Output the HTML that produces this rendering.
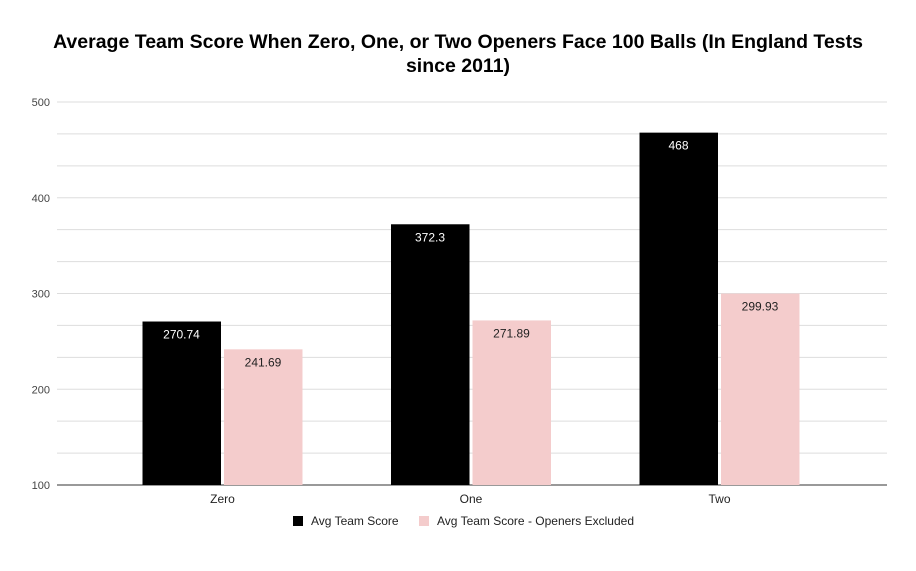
<!DOCTYPE html>
<html><head><meta charset="utf-8"><style>
body{margin:0;background:#fff;font-family:"Liberation Sans",Arial,sans-serif}
</style></head><body>
<svg id="chart" width="916" height="566" xmlns="http://www.w3.org/2000/svg">
<rect width="916" height="566" fill="#fff"/>
<text x="458" y="48" text-anchor="middle" font-size="19.5" font-weight="bold" fill="#000">Average Team Score When Zero, One, or Two Openers Face 100 Balls (In England Tests</text>
<text x="458" y="72" text-anchor="middle" font-size="19.5" font-weight="bold" fill="#000">since 2011)</text>
<g id="grid"></g><g id="bars"></g><g id="labels"></g>
<g>
<rect x="293" y="516" width="10" height="10" fill="#000"/>
<text x="311" y="525" font-size="12" fill="#222">Avg Team Score</text>
<rect x="419" y="516" width="10" height="10" fill="#f4cccc"/>
<text x="437" y="525" font-size="12" fill="#222">Avg Team Score - Openers Excluded</text>
</g>
</svg>
<script>
const categories=["Zero","One","Two"];
const avgScore=[270.74,372.3,468];
const excludedScore=[241.69,271.89,299.93];
const yTicks=[100,200,300,400,500];
const yMin=100,yMax=500,y0=485,y1=102;
const y=v=>y0-(v-yMin)/(yMax-yMin)*(y0-y1);
const cx=i=>222.5+i*248.5;
const ns="http://www.w3.org/2000/svg";
function mk(t,a,parent){const e=document.createElementNS(ns,t);for(const k in a)e.setAttribute(k,a[k]);document.getElementById(parent).appendChild(e);return e;}
const grid="grid";
for(let v=yMin;v<=yMax+0.01;v+=100/3){
 const l=mk("line",{x1:57,x2:887,y1:y(v),y2:y(v),stroke:Math.abs(v-yMin)<0.01?"#333":"#ddd","stroke-width":1},grid);
 
 
}
yTicks.forEach(t=>{
 const e=mk("text",{x:50,y:y(t)+4,"text-anchor":"end","font-size":"11",fill:"#444"},grid);
 e.textContent=t;
 
 
});
categories.forEach((c,i)=>{
 const t=mk("text",{x:cx(i),y:503,"text-anchor":"middle","font-size":"12",fill:"#222"},"labels");
 t.textContent=c;
 
 
 [[avgScore,"#000",-80,"#fff","avg"],[excludedScore,"#f4cccc",1.5,"#222","excluded"]].forEach(([arr,col,dx,tc,nm])=>{
  const v=arr[i];
  const r=mk("rect",{x:cx(i)+dx,y:y(v),width:78.5,height:y0-y(v),fill:col},"bars");
  
  
  const lt=mk("text",{x:cx(i)+dx+39,y:y(v)+17,"text-anchor":"middle","font-size":"12",fill:tc},"labels");
  lt.textContent=v;
  
  
 });
});
</script>
</body></html>
